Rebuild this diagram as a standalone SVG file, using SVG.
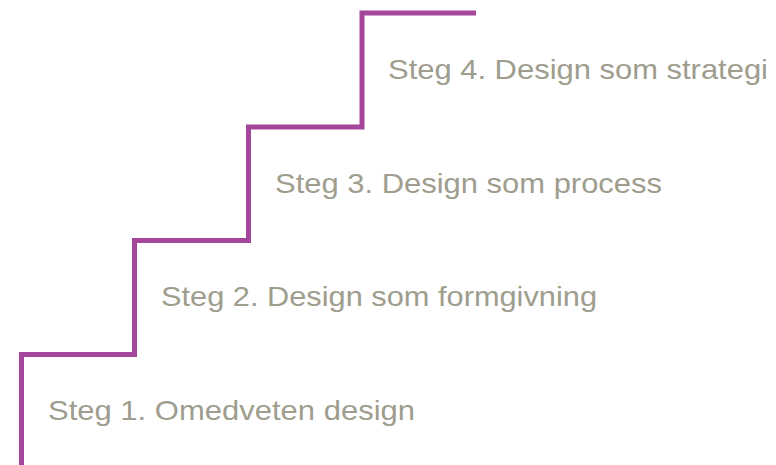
<svg xmlns="http://www.w3.org/2000/svg" width="776" height="465" viewBox="0 0 776 465">
<style>
.stair{fill:none;stroke:#a4479b;stroke-width:5;stroke-linejoin:miter;stroke-linecap:butt}
.lbl{font-family:"Liberation Sans",Arial,sans-serif;font-size:28px;fill:#9e9d8e}
</style>
<rect width="776" height="465" fill="#ffffff"/>
<g id="connectors">
<path class="stair" d="M21.5,465 V354.5 H134.5 V240.5 H248.5 V127 H362 V13 H476"/>
</g>
<g id="step1"><text class="lbl" x="48" y="419.5" textLength="367" lengthAdjust="spacingAndGlyphs">Steg 1. Omedveten design</text></g>
<g id="step2"><text class="lbl" x="161" y="305.8" textLength="436" lengthAdjust="spacingAndGlyphs">Steg 2. Design som formgivning</text></g>
<g id="step3"><text class="lbl" x="275" y="192.6" textLength="387" lengthAdjust="spacingAndGlyphs">Steg 3. Design som process</text></g>
<g id="step4"><text class="lbl" x="388" y="79" textLength="380" lengthAdjust="spacingAndGlyphs">Steg 4. Design som strategi</text></g>
</svg>
